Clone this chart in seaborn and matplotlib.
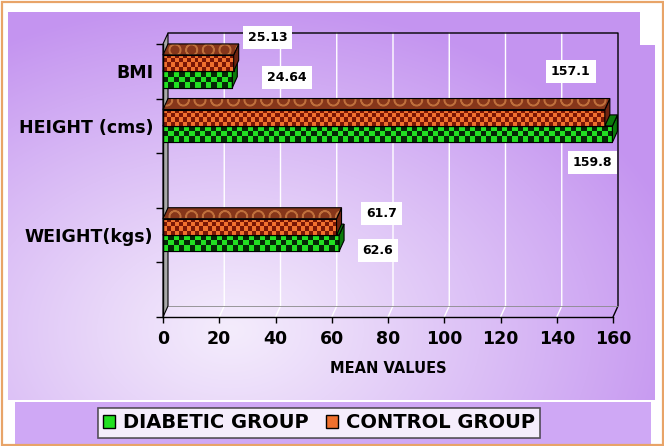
import numpy as np
import pandas as pd
import matplotlib
matplotlib.use("Agg")
import matplotlib.pyplot as plt
import matplotlib.transforms as mtransforms
from matplotlib.patches import Polygon, Rectangle, Patch
from matplotlib.lines import Line2D
import seaborn as sns

# ---------------- data ----------------
categories = ["BMI", "HEIGHT (cms)", "WEIGHT(kgs)"]
diabetic = [24.64, 159.8, 62.6]
control = [25.13, 157.1, 61.7]
groups = ["DIABETIC GROUP", "CONTROL GROUP"]
slot_order = ["BMI", "HEIGHT (cms)", " ", "WEIGHT(kgs)", "  "]
slot_labels = ["BMI", "HEIGHT (cms)", "", "WEIGHT(kgs)", ""]
x_ticks = [0, 20, 40, 60, 80, 100, 120, 140, 160]
x_label = "MEAN VALUES"

df = pd.DataFrame({
    "category": categories * 2,
    "group": [groups[0]] * 3 + [groups[1]] * 3,
    "value": diabetic + control,
})

# ---------------- style ----------------
sns.set_theme(style="white")
plt.rcParams["font.family"] = ["DejaVu Sans"]
plt.rcParams["text.color"] = "black"
plt.rcParams["axes.labelcolor"] = "black"
plt.rcParams["xtick.color"] = "black"
plt.rcParams["ytick.color"] = "black"

W, H = 664, 446
DX, DY = 5, 11  # 3D depth in pixels
GREEN = "#22E022"
GREEN_DARK = "#062806"
ORANGE = "#F0702E"
ORANGE_DARK = "#7A1606"
TOP_BASE = "#86361A"
TOP_DOT = "#C0703C"
GREEN_SIDE = "#0C7A0C"
ORANGE_SIDE = "#6E2410"

fig = plt.figure(figsize=(W / 100, H / 100), dpi=100)
fig.patch.set_facecolor("white")

# ---------------- background ----------------
bg = fig.add_axes([0, 0, 1, 1], zorder=-10)
bg.set_xlim(0, W)
bg.set_ylim(H, 0)
bg.axis("off")
x0b, x1b, y0b, y1b = 8, 655, 12, 400
yy, xx = np.mgrid[y0b:y1b, x0b:x1b]
d = np.sqrt(((xx - 230) / 470.0) ** 2 + ((yy - 330) / 330.0) ** 2)
t = np.clip(d, 0, 1) ** 1.1
light = np.array([244, 236, 252]) / 255
dark = np.array([196, 148, 240]) / 255
img = light + (dark - light) * t[..., None]
bg.imshow(img, extent=[x0b, x1b, y1b, y0b], origin="upper", aspect="auto",
          interpolation="bilinear")
bg.add_patch(Rectangle((640, 12), 15, 33, facecolor="white", edgecolor="none"))
bg.add_patch(Rectangle((15, 402), 636, 44, facecolor="#CFA8F5", edgecolor="none"))
bg.add_patch(Rectangle((1.5, 1.5), W - 3, H - 3, fill=False, edgecolor="#E8A468", lw=1.6))
bg.set_xlim(0, W)
bg.set_ylim(H, 0)

# ---------------- main axes ----------------
ax = fig.add_axes([163 / W, (H - 317) / H, 450 / W, 273 / H])
ax.patch.set_alpha(0)

sns.barplot(data=df, x="value", y="category", hue="group", order=slot_order,
            hue_order=[groups[1], groups[0]],
            palette={groups[0]: GREEN, groups[1]: ORANGE},
            width=0.6, orient="h", ax=ax, legend=False,
            edgecolor="black", linewidth=0.8, saturation=1)

XL = (x_ticks[0], x_ticks[-1])
YL = (len(slot_order) - 0.5, -0.5)
ax.set_xlim(*XL)
ax.set_ylim(*YL)

ident = mtransforms.IdentityTransform()


def px(x, y):
    return ax.transData.transform((x, y))


def poly(pts, fc, ec="black", lw=0.8, z=3, hatch=None, fill=True):
    p = Polygon(pts, closed=True, facecolor=fc, edgecolor=ec, lw=lw, hatch=hatch,
                fill=fill, transform=ident, clip_on=False, zorder=z)
    ax.add_patch(p)
    return p


def line(xs, ys, color, lw, z):
    ln = Line2D(xs, ys, color=color, lw=lw, transform=ident, zorder=z, clip_on=False)
    ax.add_line(ln)
    return ln


def checker_img(nx, ny, c1, c2):
    a = np.indices((ny, nx)).sum(axis=0) % 2
    c1 = np.array(matplotlib.colors.to_rgb(c1))
    c2 = np.array(matplotlib.colors.to_rgb(c2))
    return np.where(a[..., None] == 0, c1, c2)


# walls / frame
lt = px(0, YL[1]); lb = px(0, YL[0]); rt = px(XL[1], YL[1]); rb = px(XL[1], YL[0])
off = np.array([DX, DY])
poly([lt, lt + off, lb + off, lb], "#A8A8A8", z=1.5)
for v in x_ticks[1:-1]:
    a = px(v, YL[1]) + off
    b = px(v, YL[0]) + off
    c = px(v, YL[0])
    line([a[0], b[0], c[0]], [a[1], b[1], c[1]], "white", 1.0, 1.2)
line([(lt + off)[0], (rt + off)[0], (rb + off)[0], rb[0]],
     [(lt + off)[1], (rt + off)[1], (rb + off)[1], rb[1]], "black", 1.0, 1.3)
line([(lb + off)[0], (rb + off)[0]], [(lb + off)[1], (rb + off)[1]], "#8A8A8A", 0.6, 1.3)

# bars with 3D faces and checker fill
for p in list(ax.patches):
    if not isinstance(p, Rectangle):
        continue
    w = p.get_width()
    if w <= 0:
        continue
    yc = p.get_y() + p.get_height() / 2
    is_control = yc < round(yc)
    base_z = 4 if is_control else 2
    p.set_zorder(base_z)
    (bx0, by0) = px(p.get_x(), p.get_y() + p.get_height())
    (bx1, by1) = px(p.get_x() + w, p.get_y())
    cell = 4.0 if is_control else 5.3
    nx = max(1, int(round((bx1 - bx0) / cell)))
    ny = max(1, int(round((by1 - by0) / cell)))
    c_light, c_dark = (ORANGE, ORANGE_DARK) if is_control else (GREEN, GREEN_DARK)
    im = ax.imshow(checker_img(nx, ny, c_light, c_dark),
                   extent=[p.get_x(), p.get_x() + w, p.get_y() + p.get_height(), p.get_y()],
                   aspect="auto", interpolation="nearest", zorder=base_z + 0.1)
    im.set_clip_path(p)
    ax.add_patch(Rectangle((p.get_x(), p.get_y()), w, p.get_height(), fill=False,
                           edgecolor="black", lw=0.8, zorder=base_z + 0.2))
    # top face and right face
    tl = np.array([bx0, by1]); tr = np.array([bx1, by1]); br = np.array([bx1, by0])
    side = ORANGE_SIDE if is_control else GREEN_SIDE
    poly([tr, tr + off, br + off, br], side, z=base_z + 0.3)
    if is_control:
        poly([tl, tr, tr + off, tl + off], TOP_BASE, ec=TOP_DOT, lw=0, hatch="O",
             z=base_z + 0.3)
        poly([tl, tr, tr + off, tl + off], "none", ec="black", lw=0.8, z=base_z + 0.35,
             fill=False)
    else:
        poly([tl, tr, tr + off, tl + off], GREEN_SIDE, z=base_z + 0.3)

# value labels (offsets in pixels, display coordinates)
label_offsets = {
    (groups[1], 0): (34, 26), (groups[0], 0): (55, 2),
    (groups[1], 1): (-34, 46), (groups[0], 1): (-20, -28),
    (groups[1], 3): (45, 13), (groups[0], 3): (39, -7),
}
for g, vals in [(groups[0], diabetic), (groups[1], control)]:
    for cat, v in zip(categories, vals):
        idx = slot_order.index(cat)
        yv = idx + (0.15 if g == groups[0] else -0.15)
        dxo, dyo = label_offsets[(g, idx)]
        ax.annotate(f"{v:g}", xy=(v, yv), xytext=(dxo, dyo), textcoords="offset pixels",
                    ha="center", va="center", fontsize=9, fontweight="bold",
                    color="black", annotation_clip=False, zorder=10,
                    bbox=dict(boxstyle="square,pad=0.4", fc="white", ec="none"))

# axes styling
ax.set_xlim(*XL)
ax.set_ylim(*YL)
for s in ["top", "right"]:
    ax.spines[s].set_visible(False)
for s in ["left", "bottom"]:
    ax.spines[s].set_color("black")
    ax.spines[s].set_linewidth(1.0)
    ax.spines[s].set_zorder(6)
ax.set_xticks(x_ticks)
ax.set_xticklabels([str(v) for v in x_ticks], fontsize=12.5, fontweight="bold",
                   color="black")
ax.tick_params(axis="x", which="major", length=4, width=1, color="black",
               labelcolor="black", direction="out", pad=5, bottom=True)
ax.set_yticks(range(len(slot_order)))
ax.set_yticklabels(slot_labels, fontsize=12.5, fontweight="bold", color="black")
ax.set_yticks(np.arange(-0.5, len(slot_order), 1.0), minor=True)
ax.tick_params(axis="y", which="major", length=0, pad=7, labelcolor="black")
ax.tick_params(axis="y", which="minor", length=5, width=1, color="black",
               direction="out", left=True)
ax.set_xlabel(x_label, fontsize=10.5, fontweight="bold", labelpad=10, color="black")
ax.set_ylabel("")
ax.grid(False)

# legend
handles = [Patch(facecolor=GREEN, edgecolor="black", label=groups[0]),
           Patch(facecolor=ORANGE, edgecolor="black", label=groups[1])]
leg = fig.legend(handles=handles, loc="center", bbox_to_anchor=(319 / W, (H - 423) / H),
                 ncol=2, frameon=True, fancybox=False, edgecolor="#303030",
                 prop=dict(weight="bold", size=14), handlelength=0.6, handleheight=0.6,
                 handletextpad=0.4, columnspacing=0.9, borderpad=0.3,
                 borderaxespad=0, labelcolor="black")
leg.get_frame().set_linewidth(1.2)
leg.get_frame().set_facecolor("white")

fig.savefig("out.png", dpi=100)
